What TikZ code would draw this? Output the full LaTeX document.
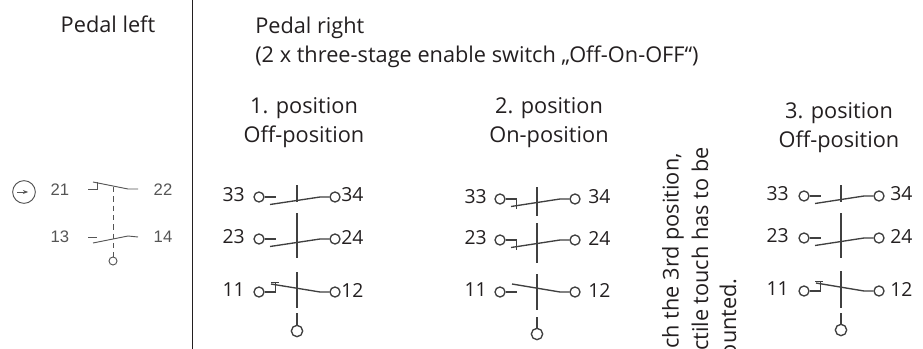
\documentclass[tikz,border=0pt]{standalone}
\usepackage{fontspec}
\usetikzlibrary{calc,arrows.meta}
\setmainfont{Open Sans}
\newfontfamily\thinfont{Liberation Sans}
\definecolor{ink}{HTML}{231F20}
\definecolor{wire}{HTML}{404040}
\definecolor{thin}{HTML}{555555}
\tikzset{
  x=0.75pt,y=-0.75pt,
  lbl/.style={font=\fontsize{16.3pt}{19pt}\selectfont,text=ink,inner sep=0pt},
  rot/.style={lbl,rotate=90,anchor=east},
  num/.style={font=\fontsize{14.5pt}{17pt}\selectfont,text=ink,inner sep=0pt},
  thinnum/.style={font=\thinfont\fontsize{12.5pt}{15pt}\selectfont,text=thin,inner sep=0pt},
  wireline/.style={draw=wire,line width=1pt},
  term/.style={circle,draw=wire,line width=1pt,minimum size=7.5pt,inner sep=0pt},
  smallterm/.style={circle,draw=thin,line width=0.7pt,minimum size=6pt,inner sep=0pt},
  thinline/.style={draw=thin,line width=0.7pt},
}
% #1 name, #2 y, #3 left label, #4 right label, #5 x left terminal, #6 x right terminal, #7 left gap, #8 right gap
\newcommand{\termpair}[8]{%
  \node[term] (#1L) at (#5,#2) {};
  \node[term] (#1R) at (#6,#2) {};
  \node[num,anchor=east] at ($(#1L)+(-#7,-2)$) {#3};
  \node[num,anchor=west] at ($(#1R)+(#8,-2)$) {#4};
}
% open blade with plain stub
\newcommand{\openplain}[1]{%
  \draw[wireline] (#1L.east) -- ++(11.5,0);
  \draw[wireline] ($(#1L)+(11,7.5)$) -- ($(#1R)+(-15,0)$) -- (#1R.west);
}
% open blade with lowered-step stub
\newcommand{\openstep}[1]{%
  \draw[wireline] (#1L.east) -- ++(11,0) -- ++(0,10);
  \draw[wireline] ($(#1L)+(11,7.5)$) -- ($(#1R)+(-15,0)$) -- (#1R.west);
}
% closed blade with raised-step stub and tick
\newcommand{\closedstep}[1]{%
  \draw[wireline] (#1L.east) -- ++(11,0) -- ++(0,-10);
  \draw[wireline] ($(#1L)+(12,-8)$) -- ($(#1R)+(-15,0)$) -- (#1R.west);
}
% closed blade with plain stub
\newcommand{\closedplain}[1]{%
  \draw[wireline] (#1L.east) -- ++(11.5,0);
  \draw[wireline] ($(#1L)+(12,-8)$) -- ($(#1R)+(-15,0)$) -- (#1R.west);
}
\begin{document}
\begin{tikzpicture}
\path[use as bounding box,clip] (0,0) rectangle (923,349);
\fill[white] (0,0) rectangle (923,349);
% divider
\coordinate (divT) at (192.5,0);
\coordinate (divB) at (192.5,349);
\draw[draw=ink,line width=0.8pt] (divT) -- (divB);
% headings
\node[lbl] (hl) at (108,24) {Pedal left};
\node[lbl,anchor=west] (hr) at (255,28) {Pedal right};
\node[lbl,anchor=west] (hr2) at (255,57) {(2 x three-stage enable switch „Off-On-OFF“)};
\node[lbl] (p1a) at (304,108) {1. position};
\node[lbl] (p1b) at (304,137) {Off-position};
\node[lbl] (p2a) at (549,108) {2. position};
\node[lbl] (p2b) at (549,137) {On-position};
\node[lbl] (p3a) at (839,113) {3. position};
\node[lbl] (p3b) at (839,142) {Off-position};
% rotated note, clipped by the page
\node[rot] (n1) at (673,153) {ch the 3rd position,};
\node[rot] (n2) at (700,147) {ctile touch has to be};
\node[rot] (n3) at (728,278) {ounted.};

% pedal left
\node[draw=thin,circle,line width=0.7pt,minimum size=17pt,inner sep=0pt] (dir) at (24,192) {};
\draw[thinline,-{Stealth[length=4pt,width=3pt]}] (dir.west)++(5,0) -- ++(11,0);
\node[thinnum] (t21) at (60,190) {21};
\node[thinnum] (t22) at (163,190) {22};
\node[thinnum] (t13) at (60,237) {13};
\node[thinnum] (t14) at (163,237) {14};
\coordinate (a21) at (88,189);
\coordinate (a22) at (138,189);
\coordinate (a13) at (88,237);
\coordinate (a14) at (138,237);
\draw[thinline] (a21) -- ++(9,0) -- ++(0,-7);
\draw[thinline] (93,182) -- (128,189) -- (a22);
\draw[thinline] (a13) -- ++(9,0);
\draw[thinline] (93,243) -- (128,236) -- (a14);
\node[smallterm] (pl) at (113,261) {};
\draw[thinline,dash pattern=on 4pt off 3pt] (113,187) -- (pl.north);

% column 1
\termpair{a}{197}{33}{34}{259}{335}{14}{6}
\termpair{b}{239}{23}{24}{259}{335}{14}{6}
\termpair{c}{292}{11}{12}{259}{335}{14}{6}
\openplain{a}\openplain{b}\closedstep{c}
\draw[wireline] (297,185) -- (297,202);
\draw[wireline] (297,213) -- (297,258);
\draw[wireline] (297,272) -- (297,308);
\node[term,minimum size=8.5pt] (ca) at (297,331) {};
\draw[wireline] (297,313) -- (ca.north);
\draw[wireline] (271,282.5) -- (279,282.5);

% column 2
\termpair{d}{199}{33}{34}{500}{575}{13}{13}
\termpair{e}{240}{23}{24}{500}{575}{13}{13}
\termpair{f}{292}{11}{12}{500}{575}{13}{13}
\openstep{d}\openstep{e}\closedplain{f}
\draw[wireline] (537,187) -- (537,216);
\draw[wireline] (537,223) -- (537,263);
\draw[wireline] (537,274) -- (537,310);
\node[term,minimum size=8.5pt] (cb) at (537,334) {};
\draw[wireline] (537,317) -- (cb.north);

% column 3
\termpair{g}{196}{33}{34}{804}{879}{15}{11}
\termpair{h}{238}{23}{24}{804}{879}{15}{11}
\termpair{i}{291}{11}{12}{804}{879}{15}{11}
\openplain{g}\openplain{h}\closedstep{i}
\draw[wireline] (841,185) -- (841,202);
\draw[wireline] (841,213) -- (841,258);
\draw[wireline] (841,271) -- (841,308);
\node[term,minimum size=8.5pt] (cc) at (841,330) {};
\draw[wireline] (841,313) -- (cc.north);
\draw[wireline] (815,281.5) -- (823,281.5);
\end{tikzpicture}
\end{document}
